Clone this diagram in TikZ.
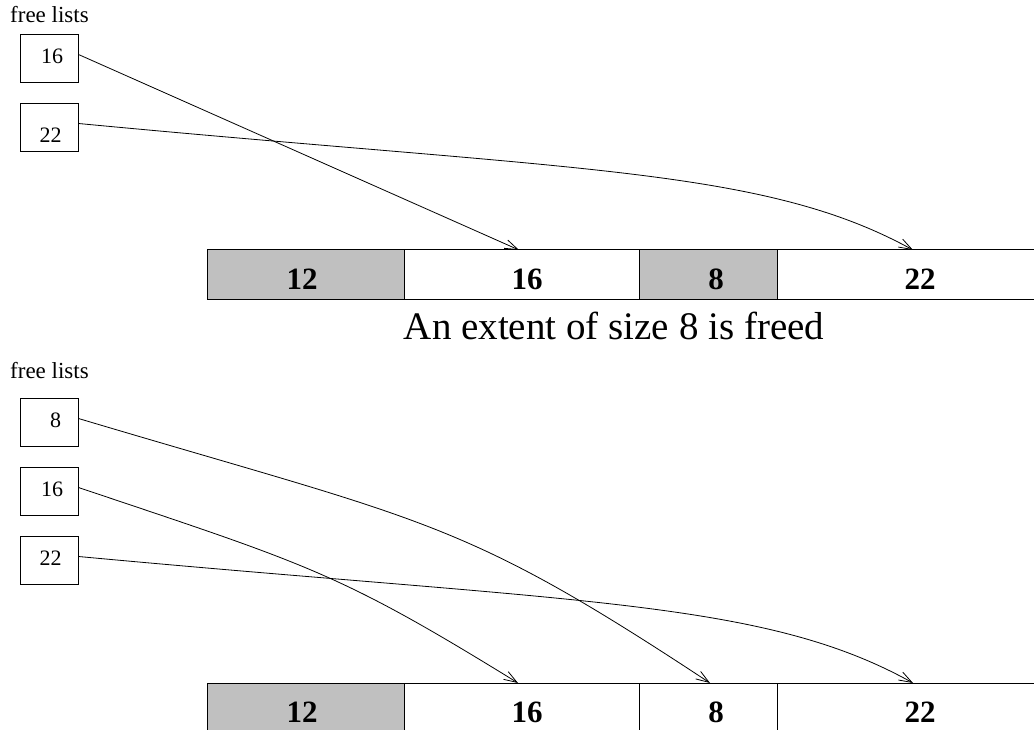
\documentclass[tikz,border=0pt]{standalone}
\usepackage{fontspec}
\setmainfont{Liberation Serif}
\usetikzlibrary{arrows.meta}
\definecolor{cellgray}{RGB}{192,192,192}
\begin{document}
\begin{tikzpicture}[x=1pt,y=-1pt,
  listbox/.style={draw, line width=1pt, minimum width=58pt, minimum height=48pt,
                  inner sep=0pt, outer sep=0pt, anchor=north west},
  listnum/.style={font=\fontsize{22}{22}\selectfont, inner sep=0pt},
  heading/.style={font=\fontsize{23}{23}\selectfont, inner sep=0pt, anchor=base west},
  cell/.style={draw, line width=1pt, minimum height=50pt, inner sep=0pt,
               outer sep=0pt, anchor=north west},
  used/.style={cell, fill=cellgray},
  size/.style={font=\bfseries\fontsize{31}{31}\selectfont, inner sep=0pt},
  ptr/.style={line width=0.8pt, -{Straight Barb[length=13pt,width=9pt]}},
  caption/.style={font=\fontsize{39}{39}\selectfont, inner sep=0pt, anchor=base}
]
\useasboundingbox (0,0) rectangle (1034,730);
\clip (0,0) rectangle (1034,730);

% ---------- before: free lists ----------
\node[heading] (hA) at (10,23) {free lists};
\node[listbox] (a16) at (20.5,34.5) {};
\node[listbox] (a22) at (20.5,103.5) {};
\node[listnum] (na16) at (52,56) {16};
\node[listnum] (na22) at (50.5,135) {22};

% ---------- before: extents ----------
\node[used, minimum width=197pt] (e12) at (207,250) {};
\node[cell, minimum width=235pt] (e16) at (404,250) {};
\node[used, minimum width=138pt] (e8) at (639,250) {};
\node[cell, minimum width=270pt] (e22) at (777,250) {};
\node[size] (se12) at (302,279.5) {12};
\node[size] (se16) at (527,279.5) {16};
\node[size] (se8) at (716,279.5) {8};
\node[size] (se22) at (920,279.5) {22};

\coordinate (t16) at (519,250);
\coordinate (t22) at (913,250);
\draw[ptr] ([yshift=4pt]a16.east) -- (t16);
\draw[ptr] ([yshift=4pt]a22.east) .. controls (579,171) and (763,167.5) .. (t22);

% ---------- caption ----------
\node[caption] (cap) at (614,339) {An extent of size 8 is freed};

% ---------- after: free lists ----------
\node[heading] (hB) at (10,378) {free lists};
\node[listbox] (b8) at (20.5,398.5) {};
\node[listbox] (b16) at (20.5,467.5) {};
\node[listbox] (b22) at (20.5,536.5) {};
\node[listnum] (nb8) at (55.5,420.5) {8};
\node[listnum] (nb16) at (52,489.5) {16};
\node[listnum] (nb22) at (50.5,558) {22};

% ---------- after: extents ----------
\node[used, minimum width=197pt] (f12) at (207,683) {};
\node[cell, minimum width=235pt] (f16) at (404,683) {};
\node[cell, minimum width=138pt] (f8) at (639,683) {};
\node[cell, minimum width=270pt] (f22) at (777,683) {};
\node[size] (sf12) at (302,712.5) {12};
\node[size] (sf16) at (527,712.5) {16};
\node[size] (sf8) at (716,712.5) {8};
\node[size] (sf22) at (920,712.5) {22};

\coordinate (u8) at (710,683);
\coordinate (u16) at (518,683);
\coordinate (u22) at (913,683);
\draw[ptr] ([yshift=4pt]b8.east) .. controls (429,523) and (460,518) .. (u8);
\draw[ptr] ([yshift=4pt]b16.east) .. controls (309,565) and (338,572) .. (u16);
\draw[ptr] ([yshift=4pt]b22.east) .. controls (579,603) and (763,599.5) .. (u22);
\end{tikzpicture}
\end{document}
